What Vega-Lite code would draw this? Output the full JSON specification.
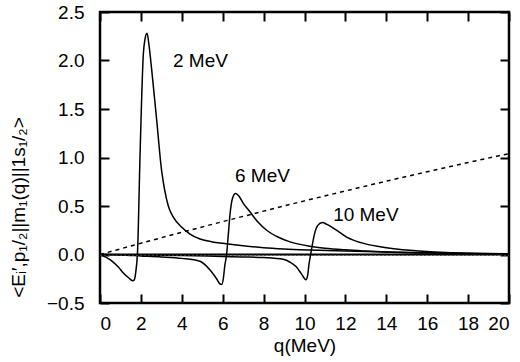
{
  "$schema": "https://vega.github.io/schema/vega-lite/v6.json",
  "width": 409,
  "height": 291,
  "autosize": {"type": "none"},
  "padding": {"left": 100, "top": 12, "right": 11, "bottom": 59},
  "background": "white",
  "datasets": {
    "curves": [
      {"s": "2 MeV", "q": 0, "v": 0}, {"s": "2 MeV", "q": 0.3, "v": -0.03}, {"s": "2 MeV", "q": 0.6, "v": -0.07},
      {"s": "2 MeV", "q": 0.9, "v": -0.13}, {"s": "2 MeV", "q": 1.14, "v": -0.19}, {"s": "2 MeV", "q": 1.4, "v": -0.24},
      {"s": "2 MeV", "q": 1.6, "v": -0.27}, {"s": "2 MeV", "q": 1.68, "v": -0.26}, {"s": "2 MeV", "q": 1.75, "v": -0.18},
      {"s": "2 MeV", "q": 1.84, "v": 0.05}, {"s": "2 MeV", "q": 1.96, "v": 1.04}, {"s": "2 MeV", "q": 2.12, "v": 2.07},
      {"s": "2 MeV", "q": 2.2, "v": 2.22}, {"s": "2 MeV", "q": 2.3, "v": 2.28}, {"s": "2 MeV", "q": 2.4, "v": 2.15},
      {"s": "2 MeV", "q": 2.53, "v": 1.9}, {"s": "2 MeV", "q": 2.77, "v": 1.39}, {"s": "2 MeV", "q": 3.01, "v": 0.87},
      {"s": "2 MeV", "q": 3.15, "v": 0.68}, {"s": "2 MeV", "q": 3.34, "v": 0.5}, {"s": "2 MeV", "q": 3.6, "v": 0.38},
      {"s": "2 MeV", "q": 4.0, "v": 0.28}, {"s": "2 MeV", "q": 4.4, "v": 0.21}, {"s": "2 MeV", "q": 4.89, "v": 0.16},
      {"s": "2 MeV", "q": 5.5, "v": 0.13}, {"s": "2 MeV", "q": 6, "v": 0.115}, {"s": "2 MeV", "q": 7, "v": 0.09},
      {"s": "2 MeV", "q": 8, "v": 0.07}, {"s": "2 MeV", "q": 9, "v": 0.057}, {"s": "2 MeV", "q": 10.27, "v": 0.046},
      {"s": "2 MeV", "q": 12, "v": 0.035}, {"s": "2 MeV", "q": 14, "v": 0.025}, {"s": "2 MeV", "q": 16, "v": 0.018},
      {"s": "2 MeV", "q": 18, "v": 0.012}, {"s": "2 MeV", "q": 20, "v": 0.008},

      {"s": "6 MeV", "q": 0, "v": 0}, {"s": "6 MeV", "q": 1, "v": -0.005}, {"s": "6 MeV", "q": 2, "v": -0.015},
      {"s": "6 MeV", "q": 3, "v": -0.025}, {"s": "6 MeV", "q": 4, "v": -0.04}, {"s": "6 MeV", "q": 4.89, "v": -0.07},
      {"s": "6 MeV", "q": 5.38, "v": -0.16}, {"s": "6 MeV", "q": 5.7, "v": -0.25}, {"s": "6 MeV", "q": 5.85, "v": -0.3},
      {"s": "6 MeV", "q": 5.95, "v": -0.31}, {"s": "6 MeV", "q": 6.03, "v": -0.25}, {"s": "6 MeV", "q": 6.1, "v": -0.12},
      {"s": "6 MeV", "q": 6.19, "v": 0}, {"s": "6 MeV", "q": 6.28, "v": 0.22}, {"s": "6 MeV", "q": 6.36, "v": 0.42},
      {"s": "6 MeV", "q": 6.48, "v": 0.58}, {"s": "6 MeV", "q": 6.63, "v": 0.63}, {"s": "6 MeV", "q": 6.8, "v": 0.6},
      {"s": "6 MeV", "q": 7.0, "v": 0.53}, {"s": "6 MeV", "q": 7.33, "v": 0.44}, {"s": "6 MeV", "q": 7.7, "v": 0.34},
      {"s": "6 MeV", "q": 8.15, "v": 0.25}, {"s": "6 MeV", "q": 8.7, "v": 0.18}, {"s": "6 MeV", "q": 9.29, "v": 0.13},
      {"s": "6 MeV", "q": 10.27, "v": 0.085}, {"s": "6 MeV", "q": 11, "v": 0.065}, {"s": "6 MeV", "q": 12, "v": 0.048},
      {"s": "6 MeV", "q": 13, "v": 0.036}, {"s": "6 MeV", "q": 14, "v": 0.026}, {"s": "6 MeV", "q": 16, "v": 0.015},
      {"s": "6 MeV", "q": 18, "v": 0.008}, {"s": "6 MeV", "q": 20, "v": 0.005},

      {"s": "10 MeV", "q": 0, "v": 0}, {"s": "10 MeV", "q": 2, "v": -0.005}, {"s": "10 MeV", "q": 4, "v": -0.01},
      {"s": "10 MeV", "q": 6, "v": -0.02}, {"s": "10 MeV", "q": 7, "v": -0.025}, {"s": "10 MeV", "q": 8, "v": -0.032},
      {"s": "10 MeV", "q": 8.96, "v": -0.05}, {"s": "10 MeV", "q": 9.3, "v": -0.08}, {"s": "10 MeV", "q": 9.61, "v": -0.13},
      {"s": "10 MeV", "q": 9.85, "v": -0.2}, {"s": "10 MeV", "q": 10.07, "v": -0.26}, {"s": "10 MeV", "q": 10.15, "v": -0.22},
      {"s": "10 MeV", "q": 10.22, "v": -0.1}, {"s": "10 MeV", "q": 10.3, "v": 0}, {"s": "10 MeV", "q": 10.4, "v": 0.12},
      {"s": "10 MeV", "q": 10.5, "v": 0.22}, {"s": "10 MeV", "q": 10.65, "v": 0.3}, {"s": "10 MeV", "q": 10.87, "v": 0.33},
      {"s": "10 MeV", "q": 11.1, "v": 0.31}, {"s": "10 MeV", "q": 11.5, "v": 0.26}, {"s": "10 MeV", "q": 12.06, "v": 0.18},
      {"s": "10 MeV", "q": 12.8, "v": 0.12}, {"s": "10 MeV", "q": 13.7, "v": 0.08}, {"s": "10 MeV", "q": 15.3, "v": 0.04},
      {"s": "10 MeV", "q": 16.9, "v": 0.02}, {"s": "10 MeV", "q": 18.5, "v": 0.01}, {"s": "10 MeV", "q": 20, "v": 0.005}
    ],
    "dashed": [
      {"q": 0, "v": 0}, {"q": 2, "v": 0.116}, {"q": 4, "v": 0.229}, {"q": 6, "v": 0.339}, {"q": 8, "v": 0.447},
      {"q": 10, "v": 0.553}, {"q": 12, "v": 0.655}, {"q": 14, "v": 0.756}, {"q": 16, "v": 0.853}, {"q": 18, "v": 0.948},
      {"q": 20, "v": 1.04}
    ],
    "dotted": [{"q": 0, "v": -0.008}, {"q": 20, "v": -0.008}],
    "zero": [{"q": 0, "v": 0}, {"q": 20, "v": 0}],
    "labels": [
      {"q": 3.57, "v": 2.0, "t": "2 MeV"},
      {"q": 6.6, "v": 0.81, "t": "6 MeV"},
      {"q": 11.4, "v": 0.41, "t": "10 MeV"}
    ]
  },
  "layer": [
    {
      "data": {"name": "zero"},
      "mark": {"type": "line", "color": "black", "strokeWidth": 2},
      "encoding": {
        "x": {"field": "q", "type": "quantitative", "scale": {"domain": [0, 20], "nice": false},
              "axis": {"orient": "top", "labels": false, "title": null, "offset": -9, "values": [0,2,4,6,8,10,12,14,16,18,20]}},
        "y": {"field": "v", "type": "quantitative", "scale": {"domain": [-0.5, 2.5], "nice": false},
              "axis": {"orient": "right", "labels": false, "title": null, "offset": -9, "values": [-0.5,0,0.5,1,1.5,2,2.5]}}
      }
    },
    {
      "data": {"name": "curves"},
      "mark": {"type": "line", "color": "black", "strokeWidth": 1.5, "interpolate": "monotone", "clip": true},
      "encoding": {
        "x": {"field": "q", "type": "quantitative",
              "axis": {"orient": "bottom", "title": "q(MeV)", "offset": -9, "values": [0,2,4,6,8,10,12,14,16,18,20], "format": "d", "labelPadding": 11, "titlePadding": 3}},
        "y": {"field": "v", "type": "quantitative",
              "axis": {"orient": "left", "title": "<Eᵢ′,p₁/₂||m₁(q)||1s₁/₂>", "offset": -9, "values": [-0.5,0,0.5,1,1.5,2,2.5], "format": ".1f", "labelPadding": 16,
                       "titleX": -91, "titleY": 195, "titleBaseline": "middle", "titleAngle": 270}},
        "detail": {"field": "s"}
      }
    },
    {
      "data": {"name": "dashed"},
      "mark": {"type": "line", "color": "black", "strokeWidth": 1.5, "strokeDash": [4, 4], "interpolate": "monotone"},
      "encoding": {
        "x": {"field": "q", "type": "quantitative", "axis": null},
        "y": {"field": "v", "type": "quantitative", "axis": null}
      }
    },
    {
      "data": {"name": "dotted"},
      "mark": {"type": "line", "color": "#444", "strokeWidth": 1, "strokeDash": [2, 2]},
      "encoding": {
        "x": {"field": "q", "type": "quantitative", "axis": null},
        "y": {"field": "v", "type": "quantitative", "axis": null}
      }
    },
    {
      "data": {"name": "labels"},
      "mark": {"type": "text", "align": "left", "baseline": "middle", "font": "Liberation Sans", "fontSize": 19, "color": "black"},
      "encoding": {
        "x": {"field": "q", "type": "quantitative", "axis": null},
        "y": {"field": "v", "type": "quantitative", "axis": null},
        "text": {"field": "t"}
      }
    }
  ],
  "resolve": {"axis": {"x": "independent", "y": "independent"}},
  "config": {
    "view": {"stroke": "black", "strokeWidth": 2.5},
    "axis": {
      "grid": false, "domain": false,
      "ticks": true, "tickColor": "black", "tickWidth": 2, "tickSize": 9,
      "labelFont": "Liberation Sans", "labelFontSize": 19, "labelColor": "black",
      "titleFont": "Liberation Sans", "titleFontSize": 19, "titleColor": "black", "titleFontWeight": "normal"
    }
  }
}
